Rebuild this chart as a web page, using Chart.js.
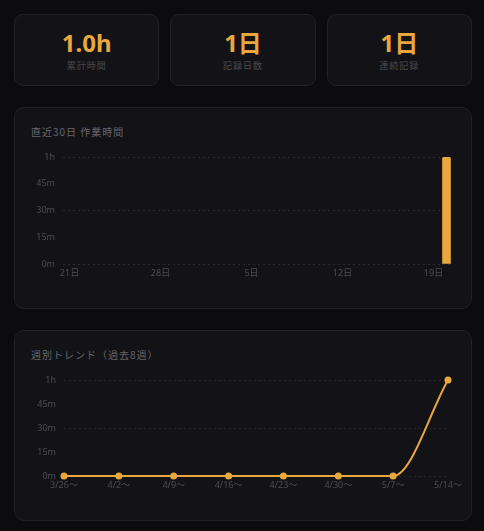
<!DOCTYPE html>
<html>
<head>
<meta charset="utf-8">
<script src="https://cdn.jsdelivr.net/npm/chart.js@4.4.1/dist/chart.umd.min.js"></script>
<style>
  html, body { margin: 0; padding: 0; background: #0c0c0f; }
  body { width: 484px; height: 531px; overflow: hidden; position: relative;
         font-family: "Noto Sans", "Noto Sans CJK JP", sans-serif; }
  .stats { position: absolute; left: 14px; top: 14px; width: 458px; height: 72px;
           display: grid; grid-template-columns: 1fr 1fr 1fr; column-gap: 11px; }
  .stat { background: #131317; border: 1px solid #212126; border-radius: 9px; box-sizing: border-box;
          display: flex; flex-direction: column; align-items: center; justify-content: center; }
  .stat .v { font-size: 24px; line-height: 28px; font-weight: 700; color: #e8a83e;
             font-family: "Noto Sans", "Noto Sans CJK JP", sans-serif; }
  .stat .l { margin-top: 3px; font-size: 9px; line-height: 12px; color: #4a4a50; letter-spacing: 1px;
             font-family: "Noto Sans CJK JP", sans-serif; }
  .card { position: absolute; left: 14px; width: 458px; background: #131317; border: 1px solid #212126;
          border-radius: 10px; box-sizing: border-box; }
  .card .t { position: absolute; left: 16px; font-size: 10px; line-height: 14px; color: #66666c; letter-spacing: 1px;
             font-family: "Noto Sans CJK JP", sans-serif; }
  .cv { position: absolute; left: -1px; width: 458px; }
</style>
</head>
<body>
<script>
// ---- data ----
const dayLabels = ['21日','22日','23日','24日','25日','26日','27日','28日','29日','30日',
                   '1日','2日','3日','4日','5日','6日','7日','8日','9日','10日',
                   '11日','12日','13日','14日','15日','16日','17日','18日','19日','20日'];
const dailyMinutes = [0,0,0,0,0,0,0,0,0,0, 0,0,0,0,0,0,0,0,0,0, 0,0,0,0,0,0,0,0,0,60];
const weekLabels = ['3/26〜','4/2〜','4/9〜','4/16〜','4/23〜','4/30〜','5/7〜','5/14〜'];
const weeklyMinutes = [0,0,0,0,0,0,0,60];
const yTickValues = [0,15,30,45,60];
const statValues = ['1.0h','1日','1日'];
const statLabels = ['累計時間','記録日数','連続記録'];
</script>

<div class="stats" id="stats"></div>

<div class="card" style="top:107px;height:202px;">
  <div class="t" style="top:17px;">直近30日 作業時間</div>
  <div class="cv" style="top:32px;height:150px;"><canvas id="c1"></canvas></div>
</div>

<div class="card" style="top:330px;height:191px;">
  <div class="t" style="top:17px;">週別トレンド（過去8週）</div>
  <div class="cv" style="top:34px;height:146px;"><canvas id="c2"></canvas></div>
</div>

<script>
const ORANGE = '#e8a83e';
const TICK = '#4c4c52';
const GRID = '#29292e';
const tickFont = { family: '"Noto Sans", "Noto Sans CJK JP", sans-serif', size: 9 };

const statsEl = document.getElementById('stats');
statValues.forEach((v, i) => {
  const d = document.createElement('div');
  d.className = 'stat';
  d.innerHTML = '<div class="v"></div><div class="l"></div>';
  d.querySelector('.v').textContent = v;
  d.querySelector('.l').textContent = statLabels[i];
  statsEl.appendChild(d);
});

function yScale() {
  return {
    min: 0, max: 60,
    afterBuildTicks: s => { s.ticks = yTickValues.map(v => ({ value: v })); },
    afterFit: s => { s.width = 32; },
    grid: {
      drawTicks: false,
      color: c => (c.tick && c.tick.value % 30 === 0) ? GRID : 'rgba(0,0,0,0)',
      lineWidth: 1
    },
    border: { display: false, dash: [2, 3] },
    ticks: {
      padding: 8, color: TICK, font: tickFont,
      callback: v => v === 60 ? '1h' : v + 'm'
    }
  };
}

Chart.defaults.animation = false;

new Chart(document.getElementById('c1'), {
  type: 'bar',
  data: {
    labels: dayLabels,
    datasets: [{
      data: dailyMinutes,
      backgroundColor: c => (c.raw > 0 ? ORANGE : 'rgba(0,0,0,0)'),
      barThickness: 8,
      borderWidth: 0,
      borderRadius: c => (c.raw > 0 ? { topLeft: 2, topRight: 2 } : 0),
      borderSkipped: 'bottom'
    }]
  },
  options: {
    responsive: true, maintainAspectRatio: false,
    layout: { padding: { left: 17, right: 19, top: 17, bottom: 10 } },
    plugins: { legend: { display: false }, tooltip: { enabled: false } },
    scales: {
      x: {
        grid: { display: false, drawTicks: false },
        border: { display: false },
        afterFit: s => { s.height = 16; },
        ticks: {
          autoSkip: false, maxRotation: 0, padding: 4, color: TICK, font: tickFont,
          callback: (v, i) => i % 7 === 0 ? dayLabels[i] : ''
        }
      },
      y: yScale()
    }
  }
});

new Chart(document.getElementById('c2'), {
  type: 'line',
  data: {
    labels: weekLabels,
    datasets: [{
      data: weeklyMinutes,
      borderColor: ORANGE,
      backgroundColor: ORANGE,
      borderWidth: 2,
      pointRadius: 3.5,
      pointBackgroundColor: ORANGE,
      pointBorderColor: ORANGE,
      pointBorderWidth: 0,
      cubicInterpolationMode: 'monotone',
      clip: false,
      fill: false
    }]
  },
  options: {
    responsive: true, maintainAspectRatio: false,
    layout: { padding: { left: 18, right: 24, top: 15, bottom: 19 } },
    plugins: { legend: { display: false }, tooltip: { enabled: false } },
    scales: {
      x: {
        offset: false,
        grid: { display: false, drawTicks: false },
        border: { display: false },
        afterFit: s => { s.height = 16; },
        ticks: { autoSkip: false, maxRotation: 0, padding: 4, color: TICK, font: tickFont }
      },
      y: yScale()
    }
  }
});
</script>
</body>
</html>
